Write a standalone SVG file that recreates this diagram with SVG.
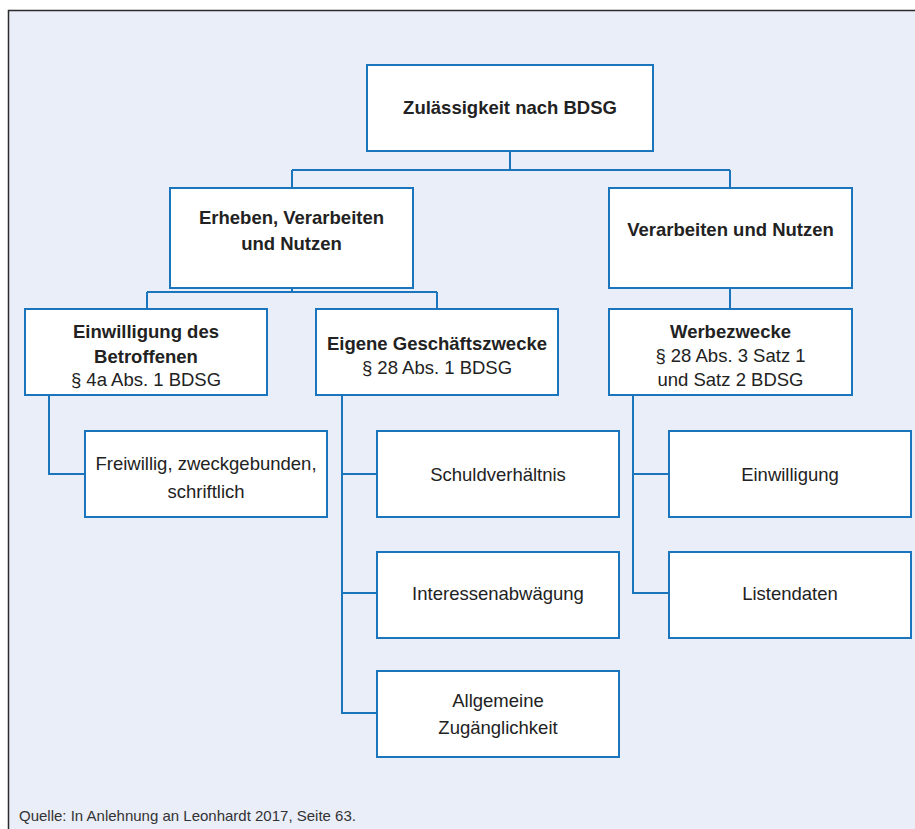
<svg xmlns="http://www.w3.org/2000/svg" width="915" height="829" viewBox="0 0 915 829">
<style>
.box{fill:#ffffff;stroke:#1b75bc;stroke-width:2}
.con{fill:none;stroke:#1b75bc;stroke-width:2}
text{font-family:"Liberation Sans",Arial,sans-serif;fill:#222222;text-anchor:middle;font-size:18.5px}
.b{font-weight:bold}
.src{text-anchor:start;font-size:15px;fill:#333333}
</style>
<rect x="0" y="0" width="915" height="829" fill="#ffffff"/>
<rect x="8.5" y="10.5" width="920" height="830" fill="#eaeef9" stroke="#2b2b2b" stroke-width="1.5"/>
<g id="connectors">
<path class="con" d="M510 151V170M292 170H730M292 170V188M730 170V188"/>
<path class="con" d="M292 288V292M147 292H437M147 292V309M437 292V309"/>
<path class="con" d="M730 288V309"/>
<path class="con" d="M49 395V474H85"/>
<path class="con" d="M342 395V713H377M342 474H377M342 593H377"/>
<path class="con" d="M633 395V593H669M633 474H669"/>
</g>
<g id="root"><rect class="box" x="367" y="65" width="286" height="86"/><text class="b" x="510" y="114">Zulässigkeit nach BDSG</text></g>
<g id="erheben"><rect class="box" x="170" y="188" width="243" height="100"/><text class="b" x="291.5" y="224">Erheben, Verarbeiten</text><text class="b" x="291.5" y="250">und Nutzen</text></g>
<g id="verarbeiten"><rect class="box" x="609" y="188" width="243" height="100"/><text class="b" x="730.5" y="236">Verarbeiten und Nutzen</text></g>
<g id="einwilligung-betroffene"><rect class="box" x="25" y="309" width="242" height="86"/><text class="b" x="146" y="338">Einwilligung des</text><text class="b" x="146" y="363">Betroffenen</text><text x="146" y="386">§ 4a Abs. 1 BDSG</text></g>
<g id="eigene"><rect class="box" x="316" y="309" width="242" height="86"/><text class="b" x="437" y="350">Eigene Geschäftszwecke</text><text x="437" y="374">§ 28 Abs. 1 BDSG</text></g>
<g id="werbezwecke"><rect class="box" x="609" y="309" width="243" height="86"/><text class="b" x="730.5" y="338">Werbezwecke</text><text x="730.5" y="362">§ 28 Abs. 3 Satz 1</text><text x="730.5" y="386">und Satz 2 BDSG</text></g>
<g id="freiwillig"><rect class="box" x="85" y="431" width="242" height="86"/><text x="206" y="470">Freiwillig, zweckgebunden,</text><text x="206" y="498">schriftlich</text></g>
<g id="schuld"><rect class="box" x="377" y="431" width="242" height="86"/><text x="498" y="481">Schuldverhältnis</text></g>
<g id="interessen"><rect class="box" x="377" y="552" width="242" height="86"/><text x="498" y="600">Interessenabwägung</text></g>
<g id="allgemein"><rect class="box" x="377" y="671" width="242" height="86"/><text x="498" y="707">Allgemeine</text><text x="498" y="734">Zugänglichkeit</text></g>
<g id="einwilligung"><rect class="box" x="669" y="431" width="242" height="86"/><text x="790" y="481">Einwilligung</text></g>
<g id="listendaten"><rect class="box" x="669" y="552" width="242" height="86"/><text x="790" y="600">Listendaten</text></g>
<text class="src" x="19" y="821">Quelle: In Anlehnung an Leonhardt 2017, Seite 63.</text>
</svg>
